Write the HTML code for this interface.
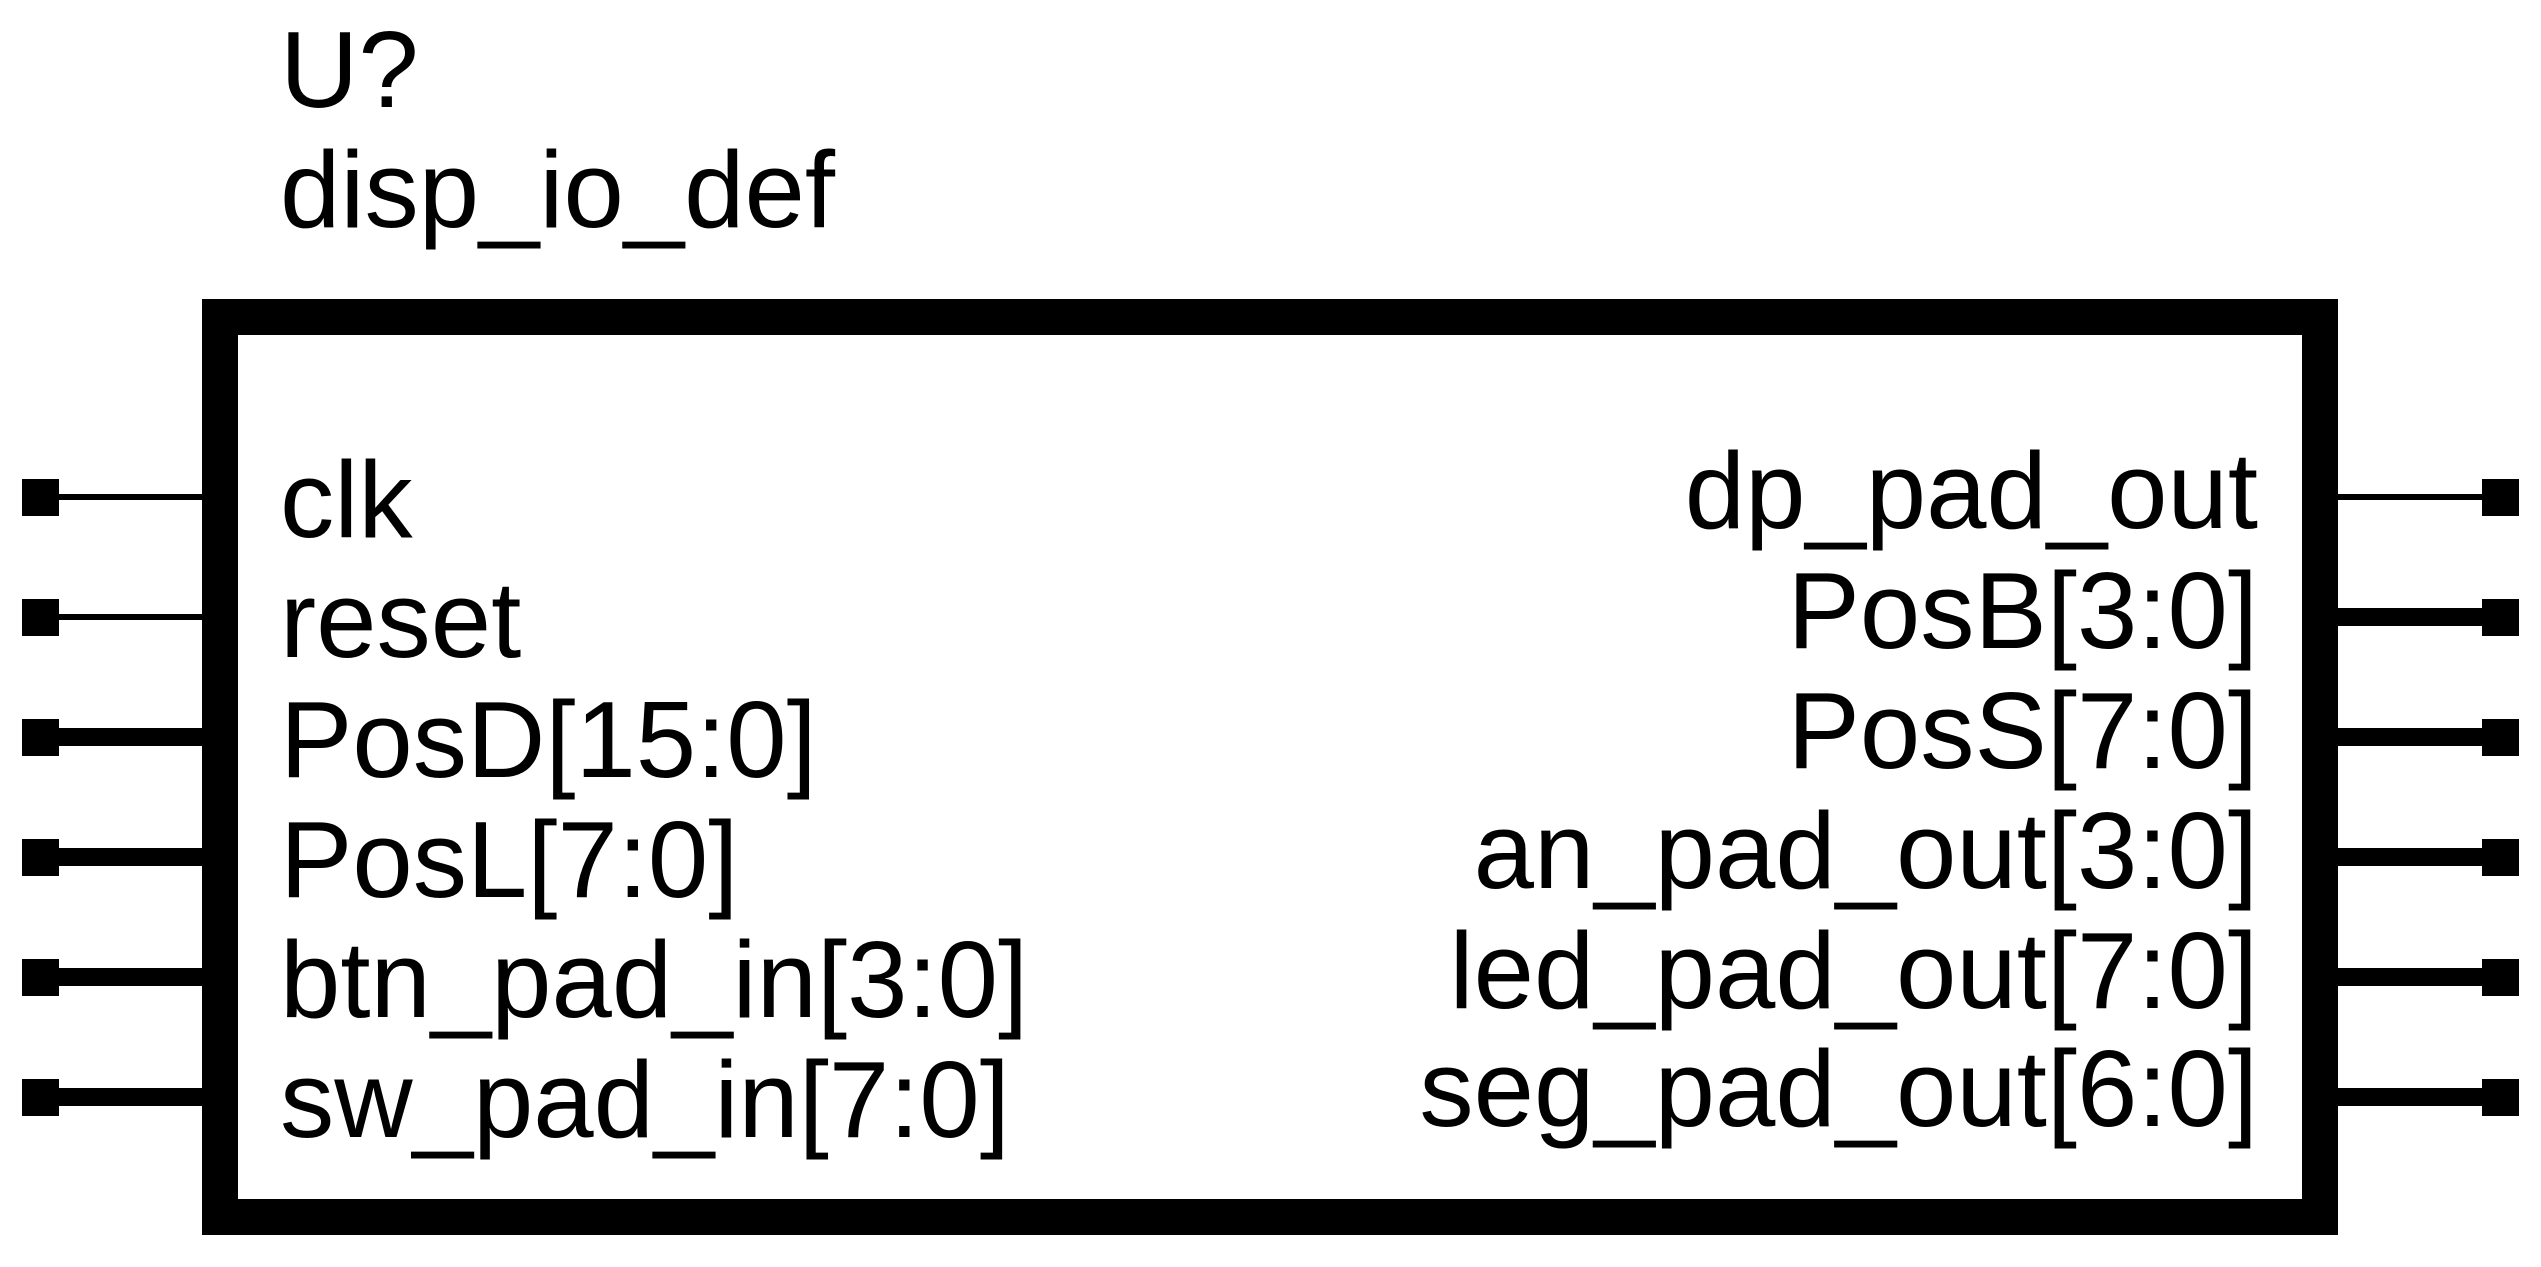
<!DOCTYPE html>
<html><head><meta charset="utf-8"><style>
html,body{margin:0;padding:0;background:#fff;}
svg{display:block}
text{font-family:"Liberation Sans",sans-serif;font-size:108.5px;fill:#000}
</style></head><body>
<svg width="2541" height="1267" viewBox="0 0 2541 1267" xmlns="http://www.w3.org/2000/svg">
<rect x="220" y="317" width="2100" height="900" fill="none" stroke="#000" stroke-width="36"/>
<text x="280" y="107">U?</text>
<text x="280" y="227">disp_io_def</text>
<g fill="#000">
<rect x="22" y="479" width="37" height="37"/><rect x="59" y="494" width="150" height="6"/>
<rect x="22" y="599" width="37" height="37"/><rect x="59" y="614" width="150" height="6"/>
<rect x="22" y="719" width="37" height="37"/><rect x="59" y="728" width="150" height="18"/>
<rect x="22" y="839" width="37" height="37"/><rect x="59" y="848" width="150" height="18"/>
<rect x="22" y="959" width="37" height="37"/><rect x="59" y="968" width="150" height="18"/>
<rect x="22" y="1079" width="37" height="37"/><rect x="59" y="1088" width="150" height="18"/>
<rect x="2482" y="479" width="37" height="37"/><rect x="2330" y="494" width="152" height="6"/>
<rect x="2482" y="599" width="37" height="37"/><rect x="2330" y="608" width="152" height="18"/>
<rect x="2482" y="719" width="37" height="37"/><rect x="2330" y="728" width="152" height="18"/>
<rect x="2482" y="839" width="37" height="37"/><rect x="2330" y="848" width="152" height="18"/>
<rect x="2482" y="959" width="37" height="37"/><rect x="2330" y="968" width="152" height="18"/>
<rect x="2482" y="1079" width="37" height="37"/><rect x="2330" y="1088" width="152" height="18"/>
</g>
<text x="280" y="537">clk</text>
<text x="280" y="657">reset</text>
<text x="280" y="777">PosD[15:0]</text>
<text x="280" y="897">PosL[7:0]</text>
<text x="280" y="1017">btn_pad_in[3:0]</text>
<text x="280" y="1137">sw_pad_in[7:0]</text>
<g text-anchor="end">
<text x="2258" y="528">dp_pad_out</text>
<text x="2258" y="648">PosB[3:0]</text>
<text x="2258" y="768">PosS[7:0]</text>
<text x="2258" y="888">an_pad_out[3:0]</text>
<text x="2258" y="1008">led_pad_out[7:0]</text>
<text x="2258" y="1126">seg_pad_out[6:0]</text>
</g>
</svg>
</body></html>
